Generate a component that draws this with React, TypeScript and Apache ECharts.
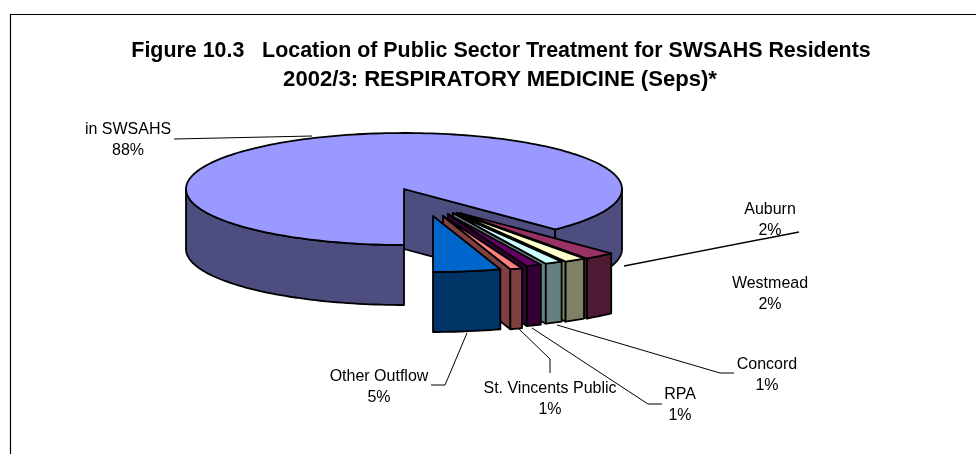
import React, { useEffect, useRef } from "react";
import * as echarts from "echarts";

const TITLE_LINES = [
  "Figure 10.3\u00a0\u00a0\u00a0Location of Public Sector Treatment for SWSAHS Residents",
  "2002/3: RESPIRATORY MEDICINE (Seps)*",
];
const titleSize = [21.4, 22.1];
const titleX = [501, 500];
// Pie order: the small slices run from straight down towards the right, the large one takes the rest.
const categories = ["in SWSAHS", "Other Outflow", "St. Vincents Public", "RPA", "Concord", "Westmead", "Auburn"];
const values = [87.8, 5.0, 0.9, 1.1, 1.3, 1.6, 2.3];

const topColors = ["#9999FF", "#0066CC", "#FF8080", "#660066", "#CCFFFF", "#FFFFCC", "#993366"];
const sideColors = ["#4D4D80", "#003366", "#804040", "#330033", "#668080", "#808066", "#4D1A33"];
const apexX = [404, 433, 443, 448, 453, 457, 460];
const apexY = [189, 216, 216, 214, 213, 213, 213];
const RX = 218;
const RY = 56;
const DEPTH = 60;

const labelX = [128, 379, 550, 680, 767, 770, 770];
const labelY = [117.5, 364.5, 376.5, 382.5, 352.5, 271.5, 197.5];
const leaders: number[][][] = [
  [[174, 139], [312, 136]],
  [[467, 333], [445, 385], [431, 385]],
  [[519, 329], [550, 359], [550, 373]],
  [[532, 328], [648, 404], [662, 404]],
  [[557, 325], [720, 373], [734, 373]],
  [[624, 266], [799, 232]],
];

const total = values.reduce((a, b) => a + b, 0);
const smallStart: number[] = [];
{
  let acc = 0;
  for (let i = 1; i < values.length; i++) {
    smallStart[i] = acc;
    acc += (values[i] / total) * 360;
  }
  smallStart[0] = acc;
}

// Angle is measured from straight down, going towards the right on screen.
function pt(cx: number, cy: number, a: number): number[] {
  const r = (a * Math.PI) / 180;
  return [cx + RX * Math.sin(r), cy + RY * Math.cos(r)];
}
function arc(cx: number, cy: number, a0: number, a1: number): number[][] {
  const n = Math.max(2, Math.ceil(Math.abs(a1 - a0) / 1.5));
  const out: number[][] = [];
  for (let i = 0; i <= n; i++) out.push(pt(cx, cy, a0 + ((a1 - a0) * i) / n));
  return out;
}
const LINE = { stroke: "#000", lineWidth: 1.8, lineJoin: "round" as const };

function poly(points: number[][], fill: string) {
  return { type: "polygon", shape: { points }, style: { fill, ...LINE } };
}

function renderSlice(_p: any, api: any) {
  const i = api.value(0) as number;
  const sweep = (api.value(1) / total) * 360;
  const a0 = smallStart[i];
  const a1 = a0 + sweep;
  const cx = apexX[i];
  const cy = apexY[i];
  const top = topColors[i];
  const side = sideColors[i];
  const children: any[] = [];
  if (i === 0) {
    const e = pt(cx, cy, a0);
    children.push(poly([[cx, cy], e, [e[0], e[1] + DEPTH], [cx, cy + DEPTH]], side));
    const rightTop = arc(cx, cy, a0, 90);
    const rightBot = arc(cx, cy + DEPTH, 90, a0);
    children.push(poly([...rightTop, ...rightBot], side));
    const leftTop = arc(cx, cy, 270, 360);
    const leftBot = arc(cx, cy + DEPTH, 360, 270);
    children.push(poly([...leftTop, ...leftBot], side));
    children.push(poly([[cx, cy], ...arc(cx, cy, a0, 360)], top));
  } else {
    const e0 = pt(cx, cy, a0);
    if (a0 > 0) {
      children.push(poly([[cx, cy], e0, [e0[0], e0[1] + DEPTH], [cx, cy + DEPTH]], side));
    }
    const outerTop = arc(cx, cy, a0, a1);
    const outerBot = arc(cx, cy + DEPTH, a1, a0);
    children.push(poly([...outerTop, ...outerBot], side));
    children.push(poly([[cx, cy], ...outerTop], top));
  }
  return { type: "group", children };
}

export default function App() {
  const ref = useRef<HTMLDivElement>(null);
  useEffect(() => {
    const chart = echarts.init(ref.current!, undefined, { renderer: "svg" });
    const drawOrder = [0, 6, 5, 4, 3, 2, 1];
    const graphic: any[] = [
      { type: "rect", silent: true, z: 0, shape: { x: 10.5, y: 14.5, width: 1000, height: 500 }, style: { fill: "#fff", stroke: "#000", lineWidth: 1.2 } },
      ...TITLE_LINES.map((t, i) => ({
        type: "text", z: 5, x: titleX[i], y: 50 + i * 28,
        style: { text: t, font: `bold ${titleSize[i]}px 'Liberation Sans'`, fill: "#000", textAlign: "center", textVerticalAlign: "middle" },
      })),
      ...leaders.map((points, i) => ({
        type: "polyline", z: 5, shape: { points }, style: { stroke: "#000", lineWidth: i === 5 ? 1.4 : 1, fill: "none" },
      })),
      ...categories.map((c, i) => ({
        type: "text", z: 6, x: labelX[i], y: labelY[i],
        style: {
          text: `${c}\n${Math.round(values[i])}%`, font: "16px 'Liberation Sans'", fill: "#000",
          textAlign: "center", textVerticalAlign: "top", lineHeight: 21.5,
        },
      })),
    ];
    chart.setOption({
      animation: false,
      graphic,
      series: [
        {
          type: "custom",
          coordinateSystem: "none",
          z: 3,
          silent: true,
          renderItem: renderSlice,
          encode: { itemName: 2 },
          data: drawOrder.map((i) => [i, values[i], categories[i]]),
        },
      ],
    });
    return () => chart.dispose();
  }, []);
  return <div ref={ref} style={{ position: "fixed", left: 0, top: 0, width: 976, height: 454 }} />;
}
